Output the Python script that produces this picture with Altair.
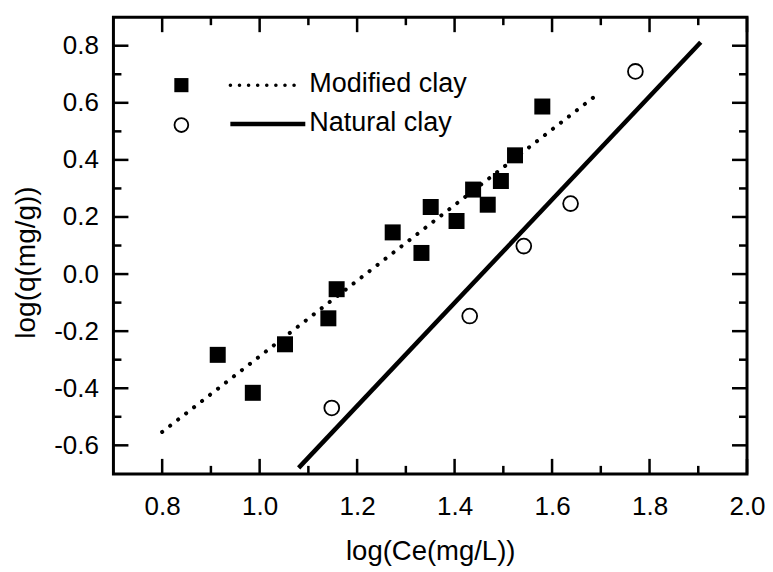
import altair as alt
import pandas as pd

FONT = "Liberation Sans"

# Modified clay (filled squares)
mod_x = [0.914, 0.986, 1.052, 1.141, 1.158, 1.273, 1.332, 1.351, 1.404, 1.438, 1.468, 1.495, 1.524, 1.580]
mod_y = [-0.283, -0.416, -0.246, -0.155, -0.053, 0.146, 0.074, 0.235, 0.186, 0.296, 0.243, 0.326, 0.416, 0.587]
# Natural clay (open circles)
nat_x = [1.148, 1.431, 1.542, 1.638, 1.771]
nat_y = [-0.469, -0.147, 0.098, 0.247, 0.710]
# Linear fits
mod_fit_x = [0.80, 1.70]
mod_fit_y = [-0.553, 0.639]
nat_fit_x = [1.08, 1.905]
nat_fit_y = [-0.679, 0.812]

x_major = [0.8, 1.0, 1.2, 1.4, 1.6, 1.8, 2.0]
x_minor = [0.9, 1.1, 1.3, 1.5, 1.7, 1.9]
y_major = [-0.6, -0.4, -0.2, 0.0, 0.2, 0.4, 0.6, 0.8]
y_minor = [-0.5, -0.3, -0.1, 0.1, 0.3, 0.5, 0.7]

legend_labels = ["Modified clay", "Natural clay"]

W, H = 634, 457

xs = alt.Scale(domain=[0.7, 2.0], nice=False, zero=False)
ys = alt.Scale(domain=[-0.7, 0.9], nice=False, zero=False)

label_expr = "datum.value < 0 ? '-' + format(-datum.value, '.1f') : format(datum.value, '.1f')"

xaxis = alt.Axis(values=x_major, labelExpr=label_expr, ticks=False, domain=False, grid=False,
                 labelFontSize=26, labelFont=FONT, labelColor="black", labelPadding=20,
                 labelFlush=False, labelOverlap=False,
                 title="log(Ce(mg/L))", titleFontSize=27.5, titleFont=FONT, titleFontWeight="normal",
                 titleColor="black", titleX=W / 2, titleY=86, titleBaseline="alphabetic",
                 titleAlign="center")
yaxis = alt.Axis(values=y_major, labelExpr=label_expr, ticks=False, domain=False, grid=False,
                 labelFontSize=26, labelFont=FONT, labelColor="black", labelPadding=15,
                 labelFlush=False, labelOverlap=False,
                 title="log(q(mg/g))", titleFontSize=28, titleFont=FONT, titleFontWeight="normal",
                 titleColor="black", titleAngle=270, titleX=-79, titleY=245,
                 titleBaseline="alphabetic", titleAlign="center")

df_mod = pd.DataFrame({"x": mod_x, "y": mod_y})
df_nat = pd.DataFrame({"x": nat_x, "y": nat_y})
df_mfit = pd.DataFrame({"x": mod_fit_x, "y": mod_fit_y})
df_nfit = pd.DataFrame({"x": nat_fit_x, "y": nat_fit_y})

pts_mod = alt.Chart(df_mod).mark_point(shape="square", filled=True, size=256, color="black", opacity=1).encode(
    x=alt.X("x:Q", scale=xs, axis=xaxis), y=alt.Y("y:Q", scale=ys, axis=yaxis))
pts_nat = alt.Chart(df_nat).mark_point(shape="circle", filled=False, size=220, color="black",
                                       strokeWidth=1.8, opacity=1).encode(x="x:Q", y="y:Q")
fit_mod = alt.Chart(df_mfit).mark_line(color="black", strokeWidth=4, strokeDash=[0.1, 10],
                                       strokeCap="round").encode(x="x:Q", y="y:Q")
fit_nat = alt.Chart(df_nfit).mark_line(color="black", strokeWidth=4.5).encode(x="x:Q", y="y:Q")

tick_style = dict(color="black", strokeWidth=2.5)
dxM = pd.DataFrame({"x": x_major})
dxm = pd.DataFrame({"x": x_minor})
dyM = pd.DataFrame({"y": y_major})
dym = pd.DataFrame({"y": y_minor})

ticks = [
    alt.Chart(dxM).mark_rule(**tick_style).encode(x="x:Q", y=alt.value(H), y2=alt.value(H - 15)),
    alt.Chart(dxm).mark_rule(**tick_style).encode(x="x:Q", y=alt.value(H), y2=alt.value(H - 8)),
    alt.Chart(dxM).mark_rule(**tick_style).encode(x="x:Q", y=alt.value(0), y2=alt.value(15)),
    alt.Chart(dxm).mark_rule(**tick_style).encode(x="x:Q", y=alt.value(0), y2=alt.value(8)),
    alt.Chart(dyM).mark_rule(**tick_style).encode(y="y:Q", x=alt.value(0), x2=alt.value(15)),
    alt.Chart(dym).mark_rule(**tick_style).encode(y="y:Q", x=alt.value(0), x2=alt.value(8)),
    alt.Chart(dyM).mark_rule(**tick_style).encode(y="y:Q", x=alt.value(W), x2=alt.value(W - 15)),
    alt.Chart(dym).mark_rule(**tick_style).encode(y="y:Q", x=alt.value(W), x2=alt.value(W - 8)),
]

one = pd.DataFrame({"k": [0]})
leg = [
    alt.Chart(one).mark_point(shape="square", filled=True, size=200, color="black", opacity=1).encode(
        x=alt.value(68), y=alt.value(68)),
    alt.Chart(one).mark_point(shape="circle", filled=False, size=190, color="black", strokeWidth=1.8,
                              opacity=1).encode(x=alt.value(68), y=alt.value(108)),
    alt.Chart(one).mark_rule(color="black", strokeWidth=3.5, strokeDash=[0.1, 9], strokeCap="round").encode(
        x=alt.value(117), x2=alt.value(189), y=alt.value(68)),
    alt.Chart(one).mark_rule(color="black", strokeWidth=4.5).encode(
        x=alt.value(117), x2=alt.value(192), y=alt.value(107)),
    alt.Chart(one).mark_text(align="left", baseline="middle", fontSize=27, font=FONT, color="black").encode(
        x=alt.value(196), y=alt.value(67), text=alt.value(legend_labels[0])),
    alt.Chart(one).mark_text(align="left", baseline="middle", fontSize=27, font=FONT, color="black").encode(
        x=alt.value(196), y=alt.value(106), text=alt.value(legend_labels[1])),
]

chart = alt.layer(pts_mod, pts_nat, fit_mod, fit_nat, *ticks, *leg).properties(
    width=W, height=H,
    autosize=alt.AutoSizeParams(type="none"),
    padding={"left": 105.5, "top": 9, "right": 18, "bottom": 94},
    background="white",
).configure_view(stroke="black", strokeWidth=3)

chart.save("out.html", embed_options={"renderer": "svg", "actions": False})
